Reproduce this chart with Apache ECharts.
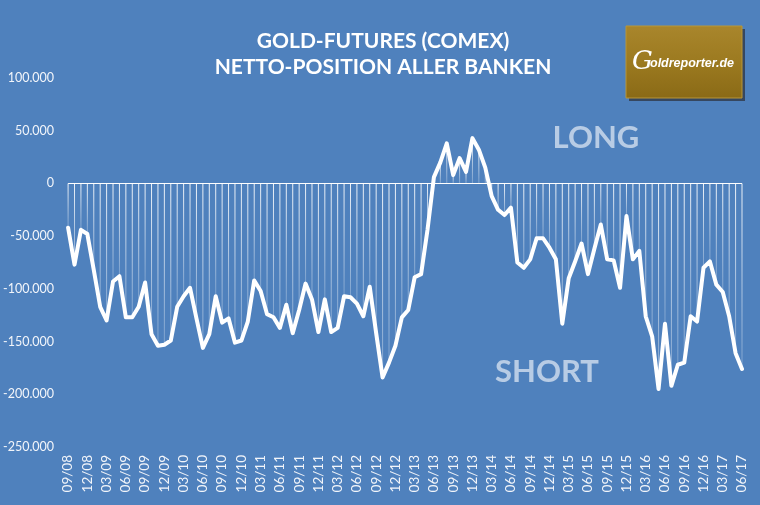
<!DOCTYPE html>
<html>
<head>
<meta charset="utf-8">
<script src="https://cdn.jsdelivr.net/npm/echarts@6/dist/echarts.min.js"></script>
<style>
html,body{margin:0;padding:0;background:#4F81BD;}
#chart{width:760px;height:505px;}
</style>
</head>
<body>
<div id="chart"></div>
<script>
const categories = [
 '09/08','10/08','11/08','12/08',
 '01/09','02/09','03/09','04/09','05/09','06/09','07/09','08/09','09/09','10/09','11/09','12/09',
 '01/10','02/10','03/10','04/10','05/10','06/10','07/10','08/10','09/10','10/10','11/10','12/10',
 '01/11','02/11','03/11','04/11','05/11','06/11','07/11','08/11','09/11','10/11','11/11','12/11',
 '01/12','02/12','03/12','04/12','05/12','06/12','07/12','08/12','09/12','10/12','11/12','12/12',
 '01/13','02/13','03/13','04/13','05/13','06/13','07/13','08/13','09/13','10/13','11/13','12/13',
 '01/14','02/14','03/14','04/14','05/14','06/14','07/14','08/14','09/14','10/14','11/14','12/14',
 '01/15','02/15','03/15','04/15','05/15','06/15','07/15','08/15','09/15','10/15','11/15','12/15',
 '01/16','02/16','03/16','04/16','05/16','06/16','07/16','08/16','09/16','10/16','11/16','12/16',
 '01/17','02/17','03/17','04/17','05/17','06/17'
];
const netPosition = [
 -42000,-77000,-44000,-48000,-82000,-117000,-130000,-93000,-88000,-127000,
 -127000,-117000,-94000,-143000,-154000,-153000,-149000,-117000,-107000,-99000,
 -128000,-156000,-143000,-107000,-132000,-128000,-151000,-149000,-131000,-92000,
 -102000,-124000,-127000,-137000,-115000,-142000,-120000,-95000,-110000,-141000,
 -110000,-141000,-137000,-107000,-108000,-114000,-126000,-98000,-142000,-184000,
 -170000,-154000,-127000,-120000,-89000,-86000,-44000,6000,20000,38000,
 8000,24000,11000,43000,32000,15000,-12000,-25000,-30000,-23000,
 -75000,-80000,-72000,-52000,-52000,-61000,-72000,-133000,-90000,-74000,
 -57000,-86000,-62000,-39000,-72000,-73000,-99000,-31000,-72000,-64000,
 -126000,-145000,-195000,-133000,-192000,-172000,-170000,-126000,-131000,-80000,
 -74000,-96000,-103000,-126000,-161000,-176000
];
const titleLines = ['GOLD-FUTURES (COMEX)', 'NETTO-POSITION ALLER BANKEN'];
const yMin = -250000, yMax = 100000, yStep = 50000;

const chart = echarts.init(document.getElementById('chart'), null, {renderer:'canvas'});
const fmt = v => {
  const s = Math.abs(v).toString().replace(/\B(?=(\d{3})+(?!\d))/g, '.');
  return (v < 0 ? '-' : '') + s;
};
chart.setOption({
  backgroundColor: '#4F81BD',
  animation: false,
  grid: {left: 67, right: 18, top: 78, bottom: 58},
  xAxis: {
    type: 'category',
    data: categories,
    boundaryGap: false,
    axisLine: {show: false, onZero: false},
    axisTick: {show: false},
    splitLine: {show: false},
    axisLabel: {
      interval: 2, rotate: 90, margin: 8,
      color: '#F2F5FA', fontFamily: 'Lato', fontSize: 13.5
    }
  },
  yAxis: {
    type: 'value',
    min: yMin, max: yMax, interval: yStep,
    axisLine: {show: false},
    axisTick: {show: false},
    splitLine: {show: false},
    axisLabel: {
      formatter: fmt, margin: 14,
      color: '#F2F5FA', fontFamily: 'Lato', fontSize: 12.5
    }
  },
  graphic: [
    {type:'text', x:383, y:41, style:{text:titleLines[0], textAlign:'center', textVerticalAlign:'middle', fill:'#FFFFFF', font:'bold 21px Lato'}},
    {type:'text', x:383, y:67, style:{text:titleLines[1], textAlign:'center', textVerticalAlign:'middle', fill:'#FFFFFF', font:'bold 21px Lato'}},
    {type:'text', x:596, y:138, style:{text:'LONG', textAlign:'center', textVerticalAlign:'middle', fill:'rgba(255,255,255,0.6)', font:'bold 31px Lato'}},
    {type:'text', x:547, y:372, style:{text:'SHORT', textAlign:'center', textVerticalAlign:'middle', fill:'rgba(255,255,255,0.6)', font:'bold 31px Lato'}},
    {type:'rect', shape:{x:629, y:29, width:116, height:72}, style:{fill:'#2E3440', opacity:0.75}},
    {type:'rect', shape:{x:626, y:26, width:116, height:72}, style:{
      fill: new echarts.graphic.LinearGradient(0,0,0,1,[{offset:0,color:'#A9862C'},{offset:0.5,color:'#9C7A20'},{offset:1,color:'#8A6A16'}]),
      stroke:'#B89638', lineWidth:1}},
    {type:'text', x:632, y:62, style:{text:'G', textVerticalAlign:'middle', fill:'#FFFFFF', font:'italic 26px "DejaVu Serif"'}},
    {type:'text', x:650, y:64, style:{text:'oldreporter.de', textVerticalAlign:'middle', fill:'#FFFFFF', font:'italic bold 12.5px "Liberation Sans"'}}
  ],
  series: [
    {
      type: 'bar',
      data: netPosition,
      barWidth: 1,
      silent: true,
      itemStyle: {
        color: new echarts.graphic.LinearGradient(0,0,0,1,[{offset:0,color:'rgba(255,255,255,0.9)'},{offset:1,color:'rgba(255,255,255,0.25)'}])
      },
      markLine: {
        silent: true, symbol: 'none',
        label: {show: false},
        lineStyle: {color: '#FFFFFF', width: 1, type: 'solid'},
        data: [{yAxis: 0}]
      }
    },
    {
      type: 'line',
      data: netPosition,
      symbol: 'none',
      smooth: false,
      lineStyle: {color: '#FFFFFF', width: 4, join: 'round', cap: 'round'},
      z: 5
    }
  ]
});
</script>
</body>
</html>
